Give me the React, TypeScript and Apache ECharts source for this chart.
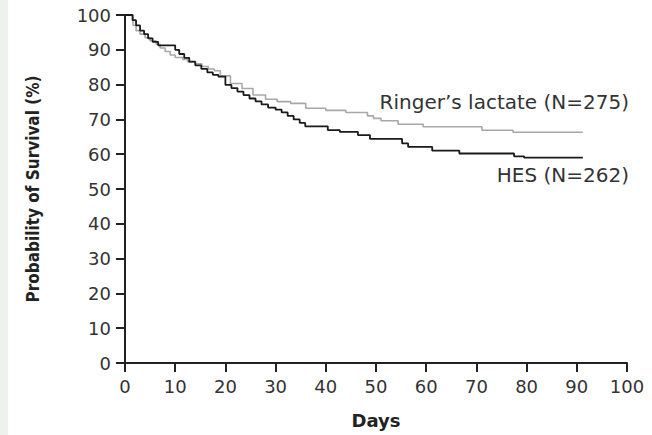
import React, { useEffect, useRef } from "react";
import * as echarts from "echarts";

const xTicks = [0, 10, 20, 30, 40, 50, 60, 70, 80, 90, 100];
const yTicks = [0, 10, 20, 30, 40, 50, 60, 70, 80, 90, 100];

// Kaplan-Meier steps: [day, survival %]
const hesDays = [0, 1.5, 2.2, 3.0, 3.8, 4.6, 5.5, 6.6, 10.0, 10.8, 11.8, 12.8, 14.0, 15.2, 16.4, 17.5, 18.6, 20.0, 21.2, 22.4, 23.6, 24.8, 26.0, 27.2, 28.5, 30.0, 31.2, 32.4, 33.6, 34.8, 35.9, 40.4, 42.8, 46.4, 48.8, 55.2, 56.4, 61.2, 66.6, 77.5, 79.5, 91.2];
const hesValues = [100, 98.5, 97, 95.5, 94.5, 93.3, 92.3, 91.3, 90.0, 88.8, 87.7, 86.6, 85.5, 84.5, 83.5, 82.8, 82.3, 79.9, 79, 78, 77, 76, 75.2, 74.3, 73.4, 72.8, 72, 71, 70, 69, 68, 66.9, 66.4, 65.5, 64.4, 63.1, 62.1, 61.0, 60.2, 59.4, 59.0, 59.0];

const rlDays = [0, 1.6, 2.2, 3.0, 4.0, 5.0, 6.2, 7.0, 8.0, 9.0, 10.0, 11.5, 12.5, 14.0, 15.3, 16.6, 17.8, 19.0, 21.0, 23.3, 25.5, 28.0, 30.3, 33.0, 36.0, 40.0, 44.0, 48.3, 49.5, 51.0, 54.4, 59.4, 71.1, 77.3, 91.2];
const rlValues = [100, 97, 95.5, 94.5, 93.5, 92.6, 91.6, 90.5, 89.5, 88.5, 87.8, 87.2, 86.5, 86, 85.2, 84.5, 84, 82.5, 80.3, 78.9, 77, 75.8, 75.1, 74.6, 73.2, 72.6, 72, 71, 70.3, 69.6, 68.6, 67.9, 66.9, 66.3, 66.3];

const rlLabel = "Ringer\u2019s lactate (N=275)";
const hesLabel = "HES (N=262)";

export default function App() {
  const ref = useRef<HTMLDivElement>(null);
  useEffect(() => {
    document.body.style.margin = "0";
    const chart = echarts.init(ref.current!, undefined, { renderer: "svg" });
    const font = "'DejaVu Sans', 'Noto Sans', sans-serif";
    const axisColor = "#222";
    chart.setOption({
      animation: false,
      backgroundColor: "#fff",
      grid: { left: 125, right: 25, top: 15, bottom: 72, containLabel: false },
      xAxis: {
        type: "value",
        min: 0,
        max: 100,
        interval: 10,
        name: "Days",
        nameLocation: "middle",
        nameGap: 48,
        nameTextStyle: { fontFamily: font, fontWeight: "bold", fontSize: 18, color: "#222" },
        axisLine: { show: true, lineStyle: { color: axisColor, width: 2 } },
        axisTick: { show: true, length: 9, lineStyle: { color: axisColor, width: 2 } },
        axisLabel: { margin: 14, fontFamily: font, fontSize: 18, color: "#333" },
        splitLine: { show: false },
      },
      yAxis: {
        type: "value",
        min: 0,
        max: 100,
        interval: 10,
        name: "Probability of Survival (%)",
        nameLocation: "middle",
        nameGap: 84,
        nameTextStyle: {
          fontFamily: "'DejaVu Sans Condensed', 'Liberation Sans Narrow', sans-serif",
          fontWeight: "bold",
          fontSize: 17,
          color: "#222",
        },
        axisLine: { show: true, lineStyle: { color: axisColor, width: 2 } },
        axisTick: { show: true, length: 9, lineStyle: { color: axisColor, width: 2 } },
        axisLabel: { margin: 14, fontFamily: font, fontSize: 18, color: "#333" },
        splitLine: { show: false },
      },
      series: [
        {
          name: "Ringer's lactate",
          type: "line",
          step: "end",
          showSymbol: false,
          data: rlDays.map((d, i) => [d, rlValues[i]]),
          lineStyle: { color: "#a8a8a8", width: 1.6 },
          z: 2,
        },
        {
          name: "HES",
          type: "line",
          step: "end",
          showSymbol: false,
          data: hesDays.map((d, i) => [d, hesValues[i]]),
          lineStyle: { color: "#1a1a1a", width: 1.8 },
          z: 3,
        },
      ],
      graphic: [
        { type: "rect", left: 0, top: 0, shape: { width: 8, height: 435 }, style: { fill: "#eef2ec" }, silent: true },
        {
          type: "text",
          right: 23,
          top: 92,
          style: { text: rlLabel, fontFamily: font, fontSize: 20, fill: "#333" },
        },
        {
          type: "text",
          right: 23,
          top: 165,
          style: { text: hesLabel, fontFamily: font, fontSize: 20, fill: "#333" },
        },
      ],
    });
    return () => chart.dispose();
  }, []);
  return <div ref={ref} style={{ position: "fixed", left: 0, top: 0, width: 652, height: 435 }} />;
}
